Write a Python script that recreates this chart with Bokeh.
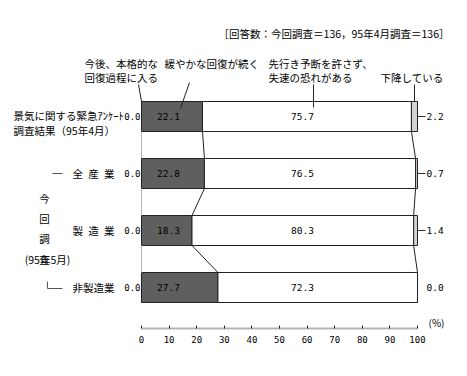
from bokeh.plotting import figure
from bokeh.models import Range1d, LinearAxis, FixedTicker, ColumnDataSource
from bokeh.core.properties import value
from bokeh.embed import file_html
from bokeh.resources import INLINE

# ---------------- data ----------------
row_labels = ["景気に関する緊急ｱﾝｹｰﾄ", "全\u2002産\u2002業", "製\u2002造\u2002業", "非製造業"]
row0_second_line = "調査結果（95年4月）"
s1_vals = [0.0, 0.0, 0.0, 0.0]      # 今後、本格的な回復過程に入る
s2_vals = [22.1, 22.8, 18.3, 27.7]  # 緩やかな回復が続く
s3_vals = [75.7, 76.5, 80.3, 72.3]  # 先行き予断を許さず、失速の恐れがある
s4_vals = [2.2, 0.7, 1.4, 0.0]      # 下降している
x_ticks = [0, 10, 20, 30, 40, 50, 60, 70, 80, 90, 100]
header = "［回答数：今回調査＝136，95年4月調査＝136］"
unit_label = "(%)"
group_chars = ["今", "回", "調", "査"]
group_sub = "(95年5月)"

# ---------------- layout ----------------
W, H = 467, 376
PX0, PX100 = 141, 417
K = (PX100 - PX0) / 100.0
ROW0_PY, ROW_STEP = 116, 57
FRAME_BOTTOM = 328
BAR_H = 30 / ROW_STEP
JP = "Noto Sans CJK JP"
NUM = "DejaVu Sans Mono"


def X(px):
    return (px - PX0) / K


def Y(py):
    return (py - ROW0_PY) / ROW_STEP


p = figure(width=W, height=H, output_backend="svg", toolbar_location=None,
           x_range=Range1d(X(0), X(W)), y_range=Range1d(Y(FRAME_BOTTOM), Y(0)),
           x_axis_location=None, y_axis_location=None,
           min_border=0, min_border_bottom=H - FRAME_BOTTOM)
p.outline_line_color = None
p.grid.visible = False
p.background_fill_color = "white"
p.border_fill_color = "white"

rows = list(range(len(s2_vals)))
series = [s1_vals, s2_vals, s3_vals, s4_vals]
fills = ["white", "#5f5f5f", "white", "#d2d2d2"]
cum = [0.0] * len(rows)
ends = []
for vals, fc in zip(series, fills):
    left = list(cum)
    right = [c + v for c, v in zip(cum, vals)]
    src = ColumnDataSource(dict(y=rows, left=left, right=right))
    p.hbar(y="y", left="left", right="right", height=BAR_H, source=src,
           fill_color=fc, line_color="#222222", line_width=1)
    ends.append(right)
    cum = right

# connector lines between bars
conn_colors = ["#b4b4b4", "#222222", "#222222"]
for e, cc in zip(ends[:3], conn_colors):
    x0 = e[:-1]
    x1 = e[1:]
    y0 = [r + BAR_H / 2 for r in rows[:-1]]
    y1 = [r + 1 - BAR_H / 2 for r in rows[:-1]]
    p.segment(x0=x0, y0=y0, x1=x1, y1=y1, line_color=cc, line_width=1)


def txt(xs, ys, ss, align="left", size="10.5px", font=JP, color="#000000"):
    p.text(x=xs, y=ys, text=ss, text_font=value(font), text_font_size=value(size),
           text_align=align, text_baseline="middle", text_color=color)


fmt = lambda v: "%.1f" % v
# value labels
txt([X(140)] * len(rows), rows, [fmt(v) for v in s1_vals], align="right", size="9px", font=NUM)
txt([X(168)] * len(rows), rows, [fmt(v) for v in s2_vals], align="center", size="9.5px", font=NUM)
txt([X(302)] * len(rows), rows, [fmt(v) for v in s3_vals], align="center", size="9.5px", font=NUM)
txt([X(426)] * len(rows), rows, [fmt(v) for v in s4_vals], align="left", size="9.5px", font=NUM)
lead_rows = [r for r, v in zip(rows, s4_vals) if v > 0]
p.segment(x0=[100] * len(lead_rows), y0=lead_rows, x1=[X(425)] * len(lead_rows), y1=lead_rows,
          line_color="#333333", line_width=1)

# row labels
txt([X(13)], [Y(115)], [row_labels[0]])
txt([X(13)], [Y(130)], [row0_second_line])
txt([X(72)] * 3, rows[1:], row_labels[1:])

# group bracket and vertical label
p.segment(x0=[X(52)], y0=[Y(173)], x1=[X(62)], y1=[Y(173)], line_color="#555555", line_width=1)
p.line(x=[X(47), X(47), X(62)], y=[Y(281), Y(288), Y(288)], line_color="#555555", line_width=1)
txt([X(44)] * 4, [Y(198), Y(218), Y(238), Y(259)], group_chars, align="center")
txt([X(47)], [Y(259)], [group_sub], align="center")

# series annotations
txt([X(84), X(84)], [Y(63), Y(77)], ["今後、本格的な", "回復過程に入る"])
txt([X(164)], [Y(63)], ["緩やかな回復が続く"])
txt([X(268), X(268)], [Y(63), Y(77)], ["先行き予断を許さず、", "失速の恐れがある"])
txt([X(380)], [Y(77)], ["下降している"])
p.segment(x0=[X(138), X(189), X(313), X(414)],
          y0=[Y(84), Y(82), Y(84), Y(84)],
          x1=[X(141), X(180), X(313), X(414)],
          y1=[Y(101), Y(108), Y(107), Y(101)],
          line_color="#222222", line_width=1)

# header and unit
txt([X(449)], [Y(33)], [header], align="right")
txt([X(428)], [Y(322)], [unit_label], size="10px")

# x axis
ax = LinearAxis(ticker=FixedTicker(ticks=x_ticks), bounds=(0, 100))
ax.axis_line_color = "#b4b4b4"
ax.axis_line_width = 2
ax.major_tick_line_color = "#222222"
ax.major_tick_in = 3
ax.major_tick_out = 0
ax.minor_tick_line_color = None
ax.major_label_standoff = 7
ax.major_label_text_font = NUM
ax.major_label_text_font_size = "9px"
ax.major_label_text_color = "#000000"
p.add_layout(ax, "below")

open("out.html", "w").write(file_html(p, INLINE))
